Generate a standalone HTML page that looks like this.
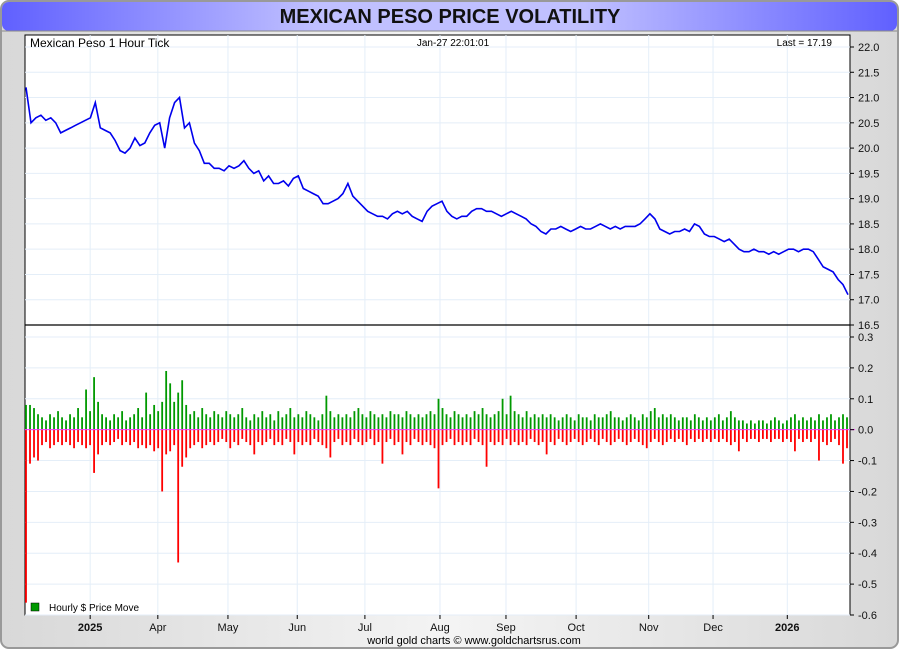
<!DOCTYPE html>
<html><head><meta charset="utf-8">
<style>
html,body{margin:0;padding:0;background:#fff;}
body{width:900px;height:650px;overflow:hidden;font-family:"Liberation Sans",sans-serif;}
</style></head>
<body>
<svg id="chart" width="900" height="650" xmlns="http://www.w3.org/2000/svg">
<defs>
<linearGradient id="tg" x1="0" x2="1" y1="0" y2="0">
<stop offset="0" stop-color="#6060ff"/><stop offset="0.35" stop-color="#c0c0ff"/><stop offset="0.65" stop-color="#c0c0ff"/><stop offset="1" stop-color="#6060ff"/>
</linearGradient>
<linearGradient id="bg" x1="0" x2="1" y1="0" y2="0">
<stop offset="0" stop-color="#d8d8d8"/><stop offset="0.5" stop-color="#f4f4f4"/><stop offset="1" stop-color="#d8d8d8"/>
</linearGradient>
</defs>
<rect x="1" y="1" width="897" height="647" rx="8" fill="url(#bg)" stroke="#999" stroke-width="2"/>
<rect x="2" y="2" width="895" height="29" rx="7" fill="url(#tg)"/>
<line x1="2" y1="31" x2="897" y2="31" stroke="#888" stroke-width="1"/>
<text x="450" y="23" text-anchor="middle" font-size="20" font-weight="bold" fill="#111">MEXICAN PESO PRICE VOLATILITY</text>
<rect x="25" y="35" width="825" height="580" fill="#fff" stroke="#000" stroke-width="1"/>
<g id="grid"></g>
<g id="bars"></g>
<g id="line"></g>
<g id="axes"></g>
<line x1="25" y1="325" x2="850" y2="325" stroke="#000" stroke-width="1.2"/>
<text x="30" y="47" font-size="12" fill="#000">Mexican Peso 1 Hour Tick</text>
<text x="453" y="46" font-size="10" text-anchor="middle" fill="#000">Jan-27  22:01:01</text>
<text x="832" y="46" font-size="10" text-anchor="end" fill="#000">Last = 17.19</text>
<rect x="31" y="603" width="8" height="8" fill="#009900" stroke="#000" stroke-width="0.5"/>
<text x="49" y="611" font-size="10" fill="#000">Hourly $ Price Move</text>
<text x="474" y="644" font-size="11" text-anchor="middle" fill="#000">world gold charts © www.goldchartsrus.com</text>
</svg>
<script>
const NS="http://www.w3.org/2000/svg";
const monthLabels=["2025","Apr","May","Jun","Jul","Aug","Sep","Oct","Nov","Dec","2026"];
const monthPos=[0.079,0.161,0.246,0.330,0.412,0.503,0.583,0.668,0.756,0.834,0.924];
const priceTicks=[22.0,21.5,21.0,20.5,20.0,19.5,19.0,18.5,18.0,17.5,17.0,16.5];
const moveTicks=[0.3,0.2,0.1,0.0,-0.1,-0.2,-0.3,-0.4,-0.5,-0.6];
const prices=[21.2,20.5,20.6,20.65,20.55,20.6,20.5,20.3,20.35,20.4,20.45,20.5,20.55,20.6,20.9,20.4,20.35,20.3,20.15,19.95,19.9,20.0,20.2,20.05,20.1,20.3,20.45,20.5,20.0,20.6,20.9,21.0,20.4,20.5,20.1,19.95,19.7,19.7,19.6,19.6,19.55,19.65,19.6,19.65,19.75,19.6,19.5,19.55,19.35,19.45,19.3,19.3,19.35,19.25,19.4,19.45,19.2,19.15,19.1,19.05,18.9,18.9,18.95,19.0,19.1,19.3,19.05,18.95,18.85,18.75,18.7,18.65,18.65,18.6,18.7,18.75,18.7,18.75,18.65,18.6,18.55,18.75,18.85,18.9,18.95,18.75,18.65,18.6,18.65,18.65,18.75,18.8,18.8,18.75,18.75,18.7,18.65,18.7,18.75,18.7,18.65,18.6,18.5,18.45,18.35,18.3,18.4,18.4,18.45,18.4,18.35,18.4,18.45,18.4,18.4,18.45,18.5,18.45,18.4,18.45,18.4,18.45,18.45,18.45,18.5,18.6,18.7,18.6,18.4,18.35,18.3,18.35,18.35,18.4,18.35,18.5,18.45,18.3,18.25,18.25,18.2,18.15,18.2,18.1,18.0,17.95,17.95,18.0,17.95,17.95,17.9,17.95,17.9,17.95,18.0,18.0,17.95,18.0,18.0,17.95,17.8,17.65,17.6,17.55,17.4,17.3,17.1];
const upMoves=[8,8,7,5,4,3,5,4,6,4,3,5,4,7,4,13,6,17,9,5,4,3,5,4,6,3,4,5,7,4,12,5,8,6,9,19,15,9,12,16,8,5,6,4,7,5,4,6,5,4,6,5,4,5,7,4,3,5,4,6,4,5,3,6,4,5,7,4,5,4,6,5,4,3,5,11,6,4,5,4,5,4,6,7,5,4,6,5,4,5,4,6,5,5,4,6,5,4,5,4,5,6,5,10,7,5,4,6,5,4,5,4,6,5,7,5,4,5,6,10,5,11,6,5,4,6,4,5,4,5,4,5,4,3,4,5,4,3,5,4,4,3,5,4,4,5,6,4,4,3,4,5,4,3,5,4,6,7,4,5,4,5,4,3,4,4,3,5,4,3,4,3,4,5,3,4,6,4,3,3,2,3,2,3,3,2,3,4,3,2,3,4,5,3,4,3,4,3,5,3,4,5,3,4,5,4];
const downMoves=[56,11,9,10,5,4,6,5,4,5,4,5,6,4,5,6,5,14,8,5,4,5,4,3,5,4,5,4,6,5,6,5,7,6,20,8,7,5,43,12,9,6,5,4,6,5,4,5,4,3,4,6,4,5,3,4,5,8,4,5,4,3,5,4,5,3,4,8,4,5,4,5,3,4,5,6,9,4,3,5,4,5,3,4,5,4,3,5,4,11,4,3,5,4,8,4,5,3,4,5,4,5,6,19,5,4,3,5,4,5,4,5,3,4,5,12,4,5,4,5,3,5,4,5,4,5,3,4,5,4,8,4,5,3,4,5,4,3,4,5,4,3,4,5,3,4,5,4,3,4,5,4,3,4,5,6,4,3,4,5,4,3,4,3,4,5,3,4,3,4,3,4,3,4,3,4,5,4,7,3,4,3,3,4,3,3,4,3,3,4,3,4,7,3,4,3,4,3,10,4,5,4,3,5,11,6];

const L=25,R=850,T=35,MID=325,B=615;
const xFrac=f=>L+f*(R-L);
const yPrice=v=>47+(22-v)*(278/5.5);
const yMove=v=>337+(0.3-v)*(278/0.9);
const xPrice=i=>26+i*(848-26)/(prices.length-1);
const xBar=i=>26+i*(847-26)/(upMoves.length-1);

function mk(tag,attrs,parent){const e=document.createElementNS(NS,tag);for(const k in attrs)e.setAttribute(k,attrs[k]);parent.appendChild(e);return e;}
const grid=document.getElementById('grid'),axes=document.getElementById('axes'),bars=document.getElementById('bars'),line=document.getElementById('line');

monthPos.forEach((f,i)=>{
  const x=xFrac(f);
  const g=mk('line',{x1:x,x2:x,y1:T,y2:B,stroke:'#e4eef8','stroke-width':1},grid);
  
  
  const tk=mk('line',{x1:x,x2:x,y1:B,y2:B+4,stroke:'#000'},axes);
  
  
  const t=mk('text',{x:x,y:B+16,'text-anchor':'middle','font-size':11,'font-weight':(monthLabels[i].length===4?'bold':'normal'),fill:'#111'},axes);
  t.textContent=monthLabels[i];
  
  
});
priceTicks.forEach(v=>{
  const y=yPrice(v);
  if(v>16.6){const g=mk('line',{x1:L,x2:R,y1:y,y2:y,stroke:'#e4eef8'},grid);
  
  }
  const tk=mk('line',{x1:R,x2:R+4,y1:y,y2:y,stroke:'#000'},axes);
  
  
  const t=mk('text',{x:R+8,y:y+4,'font-size':11,fill:'#111'},axes);
  t.textContent=v.toFixed(1);
  
  
});
moveTicks.forEach(v=>{
  const y=yMove(v);
  const g=mk('line',{x1:L,x2:R,y1:y,y2:y,stroke:'#e4eef8'},grid);
  
  
  const tk=mk('line',{x1:R,x2:R+4,y1:y,y2:y,stroke:'#000'},axes);
  
  
  const t=mk('text',{x:R+8,y:y+4,'font-size':11,fill:'#111'},axes);
  t.textContent=v.toFixed(1);
  
  
});
const y0=yMove(0);
upMoves.forEach((v,i)=>{
  const x=xBar(i),h=yMove(0)-yMove(v/100);
  const r=mk('rect',{x:x-0.9,y:y0-h,width:1.8,height:h,fill:'#009900'},bars);
  
  
});
downMoves.forEach((v,i)=>{
  const x=xBar(i),h=yMove(-v/100)-yMove(0);
  const r=mk('rect',{x:x-0.9,y:y0,width:1.8,height:h,fill:'#ff0000'},bars);
  
  
});
const zl=mk('line',{x1:L,x2:R+5,y1:y0,y2:y0,stroke:'#ff33ff','stroke-width':1},bars);


const pts=prices.map((v,i)=>xPrice(i).toFixed(1)+','+yPrice(v).toFixed(1)).join(' ');
const pl=mk('polyline',{points:pts,fill:'none',stroke:'#0000ee','stroke-width':1.6,'stroke-linejoin':'miter'},line);


</script>
</body></html>
